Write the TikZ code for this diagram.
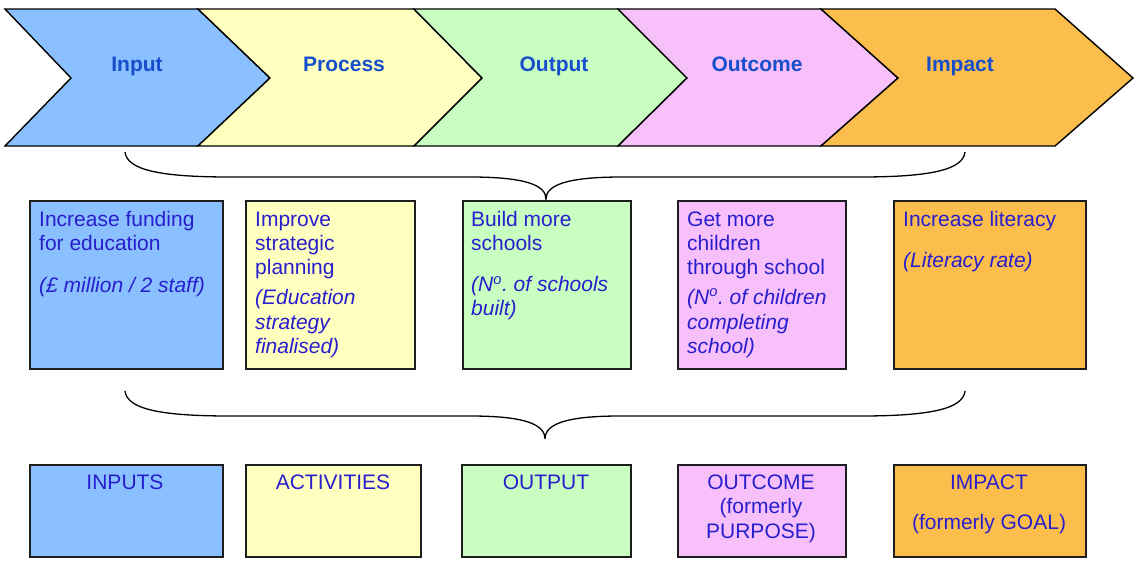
\documentclass[tikz,border=0pt]{standalone}
\usepackage{fontspec}
\setmainfont{Liberation Sans}
\definecolor{cblue}{RGB}{138,192,255}
\definecolor{cyellow}{RGB}{255,255,192}
\definecolor{cgreen}{RGB}{200,255,192}
\definecolor{cpink}{RGB}{248,192,250}
\definecolor{corange}{RGB}{251,190,76}
\definecolor{labcol}{RGB}{22,78,204}
\definecolor{txtcol}{RGB}{40,30,205}
\definecolor{edge}{RGB}{30,30,30}
\frenchspacing
\tikzset{
  chev/.style={draw=black,line width=1.4pt,line join=miter},
  chevlab/.style={font=\fontsize{21}{24}\selectfont\bfseries,text=labcol,anchor=base,inner sep=0pt},
  mbox/.style={draw=edge,line width=1.5pt,anchor=north west,inner sep=0pt},
  btxt/.style={font=\fontsize{21}{24}\selectfont,text=txtcol,anchor=north west,align=left,inner sep=0pt},
  ctxt/.style={font=\fontsize{21}{24.5}\selectfont,text=txtcol,anchor=north,align=center,inner sep=0pt},
  brace/.style={draw=black,line width=1.3pt}
}
\begin{document}
\begin{tikzpicture}[x=1pt,y=-1pt]
\useasboundingbox (0,0) rectangle (1142,568);
% chevrons
\draw[chev,fill=cblue] (5,9) -- (198,9) -- (270,78) -- (198,146) -- (5,146) -- (71,78) -- cycle;
\draw[chev,fill=cyellow] (198,9) -- (414,9) -- (482,78) -- (414,146) -- (198,146) -- (270,78) -- cycle;
\draw[chev,fill=cgreen] (414,9) -- (618,9) -- (687,78) -- (618,146) -- (414,146) -- (482,78) -- cycle;
\draw[chev,fill=cpink] (618,9) -- (821,9) -- (898,78) -- (821,146) -- (618,146) -- (687,78) -- cycle;
\draw[chev,fill=corange] (821,9) -- (1055,9) -- (1133,78) -- (1055,146) -- (821,146) -- (898,78) -- cycle;
\node[chevlab] (l1) at (137,71.5) {Input};
\node[chevlab] (l2) at (344,71.5) {Process};
\node[chevlab] (l3) at (554,71.5) {Output};
\node[chevlab] (l4) at (757,71.5) {Outcome};
\node[chevlab] (l5) at (960,71.5) {Impact};
% brace 1
\coordinate (b1l) at (125,152);
\coordinate (b1r) at (965,152);
\coordinate (b1t) at (546,199);
\draw[brace] (b1l) .. controls (127,170) and (160,177) .. (230,177) -- (470,177)
  .. controls (525,177) and (546,185) .. (b1t)
  .. controls (546,185) and (567,177) .. (622,177) -- (860,177)
  .. controls (930,177) and (963,170) .. (b1r);
% middle boxes
\node[mbox,fill=cblue,minimum width=193pt,minimum height=168pt] (m1) at (29,200) {};
\node[mbox,fill=cyellow,minimum width=169pt,minimum height=168pt] (m2) at (245,200) {};
\node[mbox,fill=cgreen,minimum width=168pt,minimum height=168pt] (m3) at (462,200) {};
\node[mbox,fill=cpink,minimum width=168pt,minimum height=168pt] (m4) at (677,200) {};
\node[mbox,fill=corange,minimum width=192pt,minimum height=168pt] (m5) at (893,200) {};
\node[btxt] (t1) at (39,211.5) {Increase funding\\for education\\[18pt]\textit{(£ million / 2 staff)}};
\node[btxt] (t2) at (255,211.5) {Improve\\strategic\\planning\\[6pt]\textit{(Education}\\[1pt]\textit{strategy}\\\textit{finalised)}};
\node[btxt] (t3) at (471,211.5) {Build more\\schools\\[17pt]\textit{(N\textsuperscript{o}. of schools}\\\textit{built)}};
\node[btxt] (t4) at (687,211.5) {Get more\\children\\through school\\[6pt]\textit{(N\textsuperscript{o}. of children}\\[1pt]\textit{completing}\\\textit{school)}};
\node[btxt] (t5) at (903,211.5) {Increase literacy\\[17pt]\textit{(Literacy rate)}};
% brace 2
\coordinate (b2l) at (125,391);
\coordinate (b2r) at (965,391);
\coordinate (b2t) at (545,439);
\draw[brace] (b2l) .. controls (127,409) and (160,416) .. (230,416) -- (470,416)
  .. controls (524,416) and (545,424) .. (b2t)
  .. controls (545,424) and (566,416) .. (620,416) -- (860,416)
  .. controls (930,416) and (963,409) .. (b2r);
% bottom boxes
\node[mbox,fill=cblue,minimum width=193pt,minimum height=92pt] (n1) at (29,464) {};
\node[mbox,fill=cyellow,minimum width=175pt,minimum height=92pt] (n2) at (245,464) {};
\node[mbox,fill=cgreen,minimum width=169pt,minimum height=92pt] (n3) at (461,464) {};
\node[mbox,fill=cpink,minimum width=168pt,minimum height=92pt] (n4) at (677,464) {};
\node[mbox,fill=corange,minimum width=192pt,minimum height=92pt] (n5) at (893,464) {};
\node[ctxt] (u1) at (125,474.5) {INPUTS};
\node[ctxt] (u2) at (333,474.5) {ACTIVITIES};
\node[ctxt] (u3) at (546,474.5) {OUTPUT};
\node[ctxt] (u4) at (761,474.5) {OUTCOME\\(formerly\\PURPOSE)};
\node[ctxt] (u5) at (989,474.5) {IMPACT\\[15.5pt](formerly GOAL)};
\end{tikzpicture}
\end{document}
